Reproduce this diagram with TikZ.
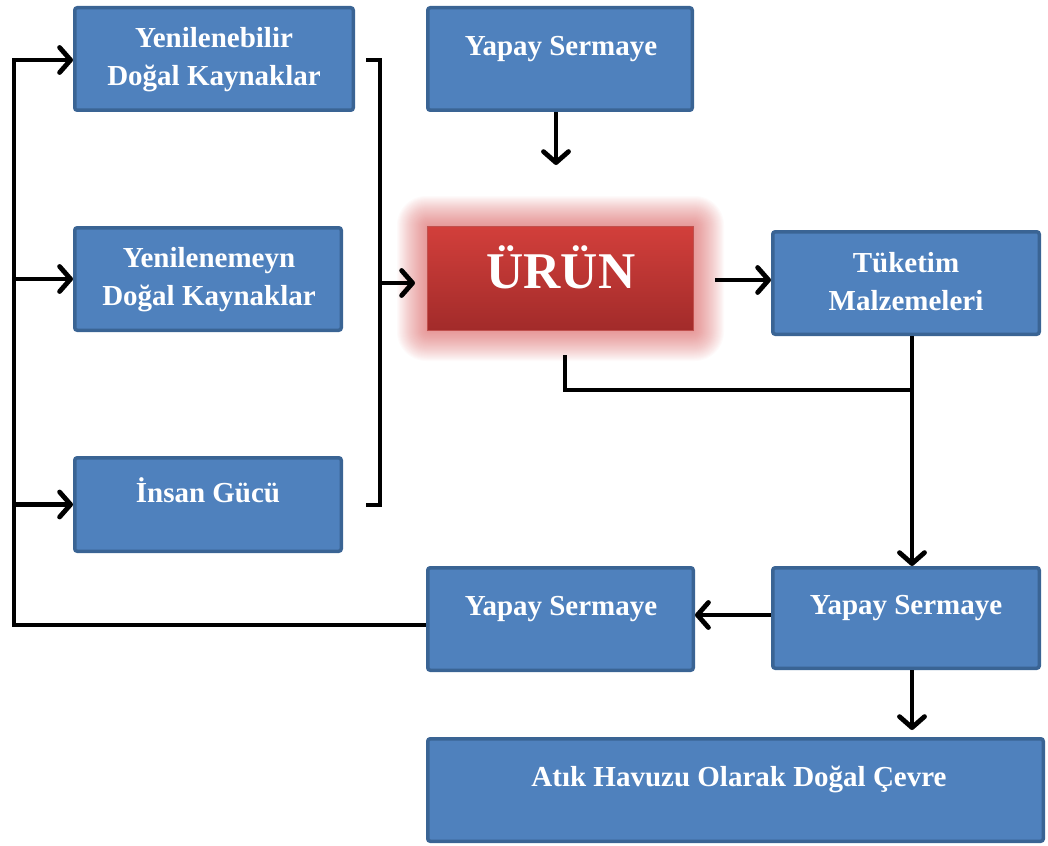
\documentclass[tikz,border=0pt]{standalone}
\usepackage{fontspec}
\setmainfont{Liberation Serif}
\usetikzlibrary{arrows.meta,calc}
\definecolor{boxblue}{HTML}{4F81BD}
\definecolor{boxedge}{HTML}{3A6494}
\definecolor{urtop}{HTML}{D23F3B}
\definecolor{urbot}{HTML}{A22B2A}
\definecolor{urline}{HTML}{C0504D}
\definecolor{glowred}{HTML}{D03A3A}

\newcommand\bluebox[5]{%
  \node[box, minimum width={#4-#2-3.5}, minimum height={#5-#3-3.5}]
    (#1) at ({(#2+#4)/2},{(#3+#5)/2}) {};}

\begin{document}
\begin{tikzpicture}[x=1pt,y=-1pt,
  box/.style={draw=boxedge, fill=boxblue, line width=3.5pt, rounded corners=2.5pt, inner sep=0pt},
  lbl/.style={text=white, font=\bfseries\fontsize{29}{38}\selectfont, align=center, inner sep=0pt},
  conn/.style={line width=4.8pt, draw=black},
  arr/.style={conn, -{Straight Barb[length=11pt,width=25pt,round]}},
]
\useasboundingbox (0,0) rectangle (1048,845);

% soft red halo behind the product box
\foreach \i in {1,...,30}
  \fill[glowred, opacity=0.025, rounded corners={\i*0.9pt+2pt}]
    ({427-\i},{226-\i}) rectangle ({694+\i},{331+\i});

% boxes
\bluebox{yen}{73}{6}{355}{112}
\bluebox{ys1}{426}{6}{694}{112}
\bluebox{yme}{73}{226}{343}{332}
\node[draw=urline, line width=1pt, top color=urtop, bottom color=urbot,
      minimum width=266pt, minimum height=104pt, inner sep=0pt]
  (urun) at (560.5,278.5) {};
\bluebox{tuk}{771}{230}{1041}{336}
\bluebox{ins}{73}{456}{343}{553}
\bluebox{ysm}{426}{566}{695}{672}
\bluebox{ysr}{771}{566}{1041}{670}
\bluebox{atik}{426}{737}{1045}{843}

% labels
\node[lbl] (yen-t) at (214,59.5) {Yenilenebilir\\Doğal Kaynaklar};
\node[lbl] (ys1-t) at (561,49.5) {Yapay Sermaye};
\node[lbl] (yme-t) at (209,280) {Yenilenemeyn\\Doğal Kaynaklar};
\node[lbl, font=\bfseries\fontsize{51.5}{60}\selectfont] (urun-t) at (561,267.5) {ÜRÜN};
\node[lbl] (tuk-t) at (906,281.5) {Tüketim\\Malzemeleri};
\node[lbl] (ins-t) at (208,490) {İnsan Gücü};
\node[lbl] (ysm-t) at (561,609.5) {Yapay Sermaye};
\node[lbl] (ysr-t) at (906,608.5) {Yapay Sermaye};
\node[lbl] (atik-t) at (739,779) {Atık Havuzu Olarak Doğal Çevre};

% feedback loop on the left
\coordinate (lt) at (14,60);
\draw[arr] ($(ysm.west)+(0,6)$) -| (lt) -- (lt -| yen.west);
\draw[arr] (lt |- yme.west) -- (yme.west);
\draw[arr] (lt |- ins.west) -- (ins.west);

% bracket gathering the inputs
\coordinate (bt0) at (366,60);
\coordinate (bt) at (380,60);
\coordinate (bb) at (380,505);
\coordinate (bb0) at (366,505);
\draw[conn] (bt0) -- (bt) -- (bb) -- (bb0);
\draw[arr] (380,283) -- ($(urun.west |- 0,283)+(-12,0)$);

% product flows
\draw[arr] ($(ys1.south)+(-4,0)$) -- ($(urun.north)+(-4.5,-61)$);
\draw[arr] ($(urun.east)+(21,1.5)$) -- (tuk.west |- 0,280);
\coordinate (join) at (912,390);
\draw[conn] ($(urun.south)+(4.5,24)$) |- (join);
\draw[arr] ($(tuk.south)+(6,0)$) -- ($(ysr.north)+(6,0)$);
\draw[arr] ($(ysr.west)+(0,-3)$) -- ($(ysm.east)+(0,-4)$);
\draw[arr, shorten >=7pt] ($(ysr.south)+(6,0)$) -- ($(ysr.south)+(6,67)$);
\end{tikzpicture}
\end{document}
